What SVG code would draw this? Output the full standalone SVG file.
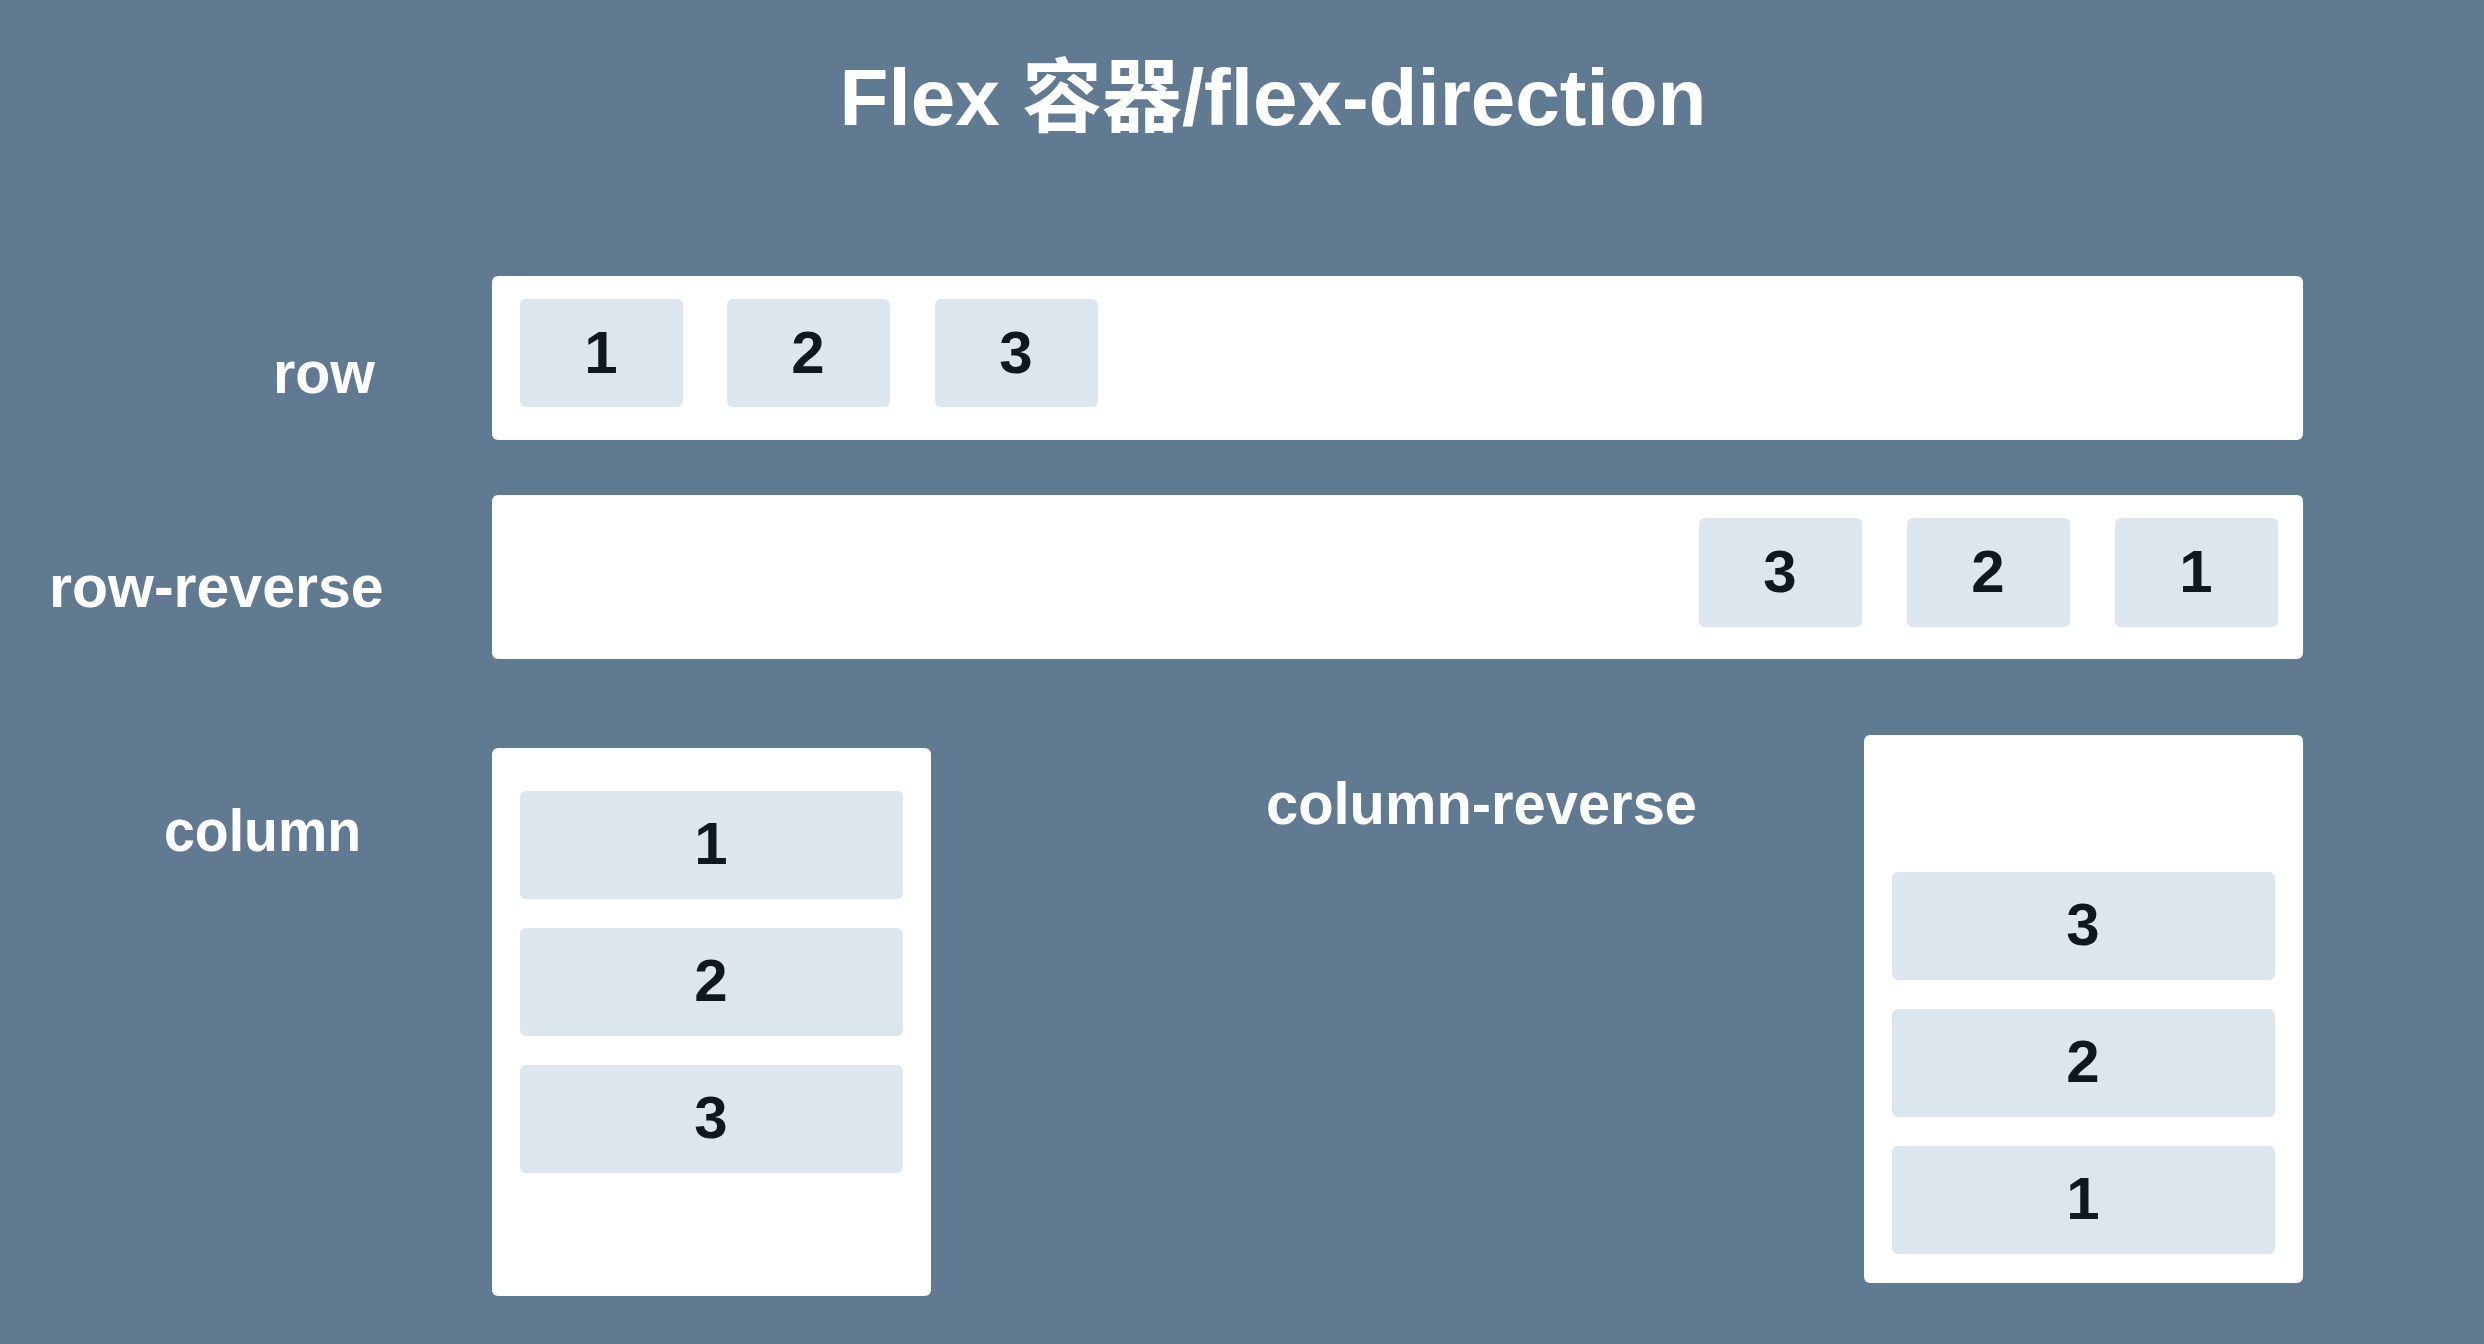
<svg xmlns="http://www.w3.org/2000/svg" width="2484" height="1344" viewBox="0 0 2484 1344">
<style>
.bg{fill:#607a92}
.box{fill:#ffffff}
.item{fill:#dce6ee}
.lbl{font-family:"Liberation Sans","Noto Sans CJK SC",sans-serif;font-weight:bold;fill:#ffffff;font-size:59px}
.title{font-family:"Liberation Sans","Noto Sans CJK SC",sans-serif;font-weight:bold;fill:#ffffff;font-size:80px}
.num{font-family:"Liberation Sans",sans-serif;font-weight:bold;fill:#0e1821;font-size:60px;text-anchor:middle}
</style>
<rect class="bg" x="0" y="0" width="2484" height="1344"/>
<text id="title" class="title" x="1273" y="125" text-anchor="middle">Flex 容器/flex-direction</text>

<g id="row">
  <text class="lbl" x="273" y="393" textLength="102" lengthAdjust="spacingAndGlyphs">row</text>
  <rect class="box" x="492" y="276" width="1811" height="164" rx="6"/>
  <g id="row-1"><rect class="item" x="520" y="299" width="163" height="108" rx="6"/><text class="num" x="601" y="373">1</text></g>
  <g id="row-2"><rect class="item" x="727" y="299" width="163" height="108" rx="6"/><text class="num" x="808" y="373">2</text></g>
  <g id="row-3"><rect class="item" x="935" y="299" width="163" height="108" rx="6"/><text class="num" x="1016" y="373">3</text></g>
</g>

<g id="row-reverse">
  <text class="lbl" x="49" y="607">row-reverse</text>
  <rect class="box" x="492" y="495" width="1811" height="164" rx="6"/>
  <g id="rr-3"><rect class="item" x="1699" y="518" width="163" height="109" rx="6"/><text class="num" x="1780" y="592">3</text></g>
  <g id="rr-2"><rect class="item" x="1907" y="518" width="163" height="109" rx="6"/><text class="num" x="1988" y="592">2</text></g>
  <g id="rr-1"><rect class="item" x="2115" y="518" width="163" height="109" rx="6"/><text class="num" x="2196" y="592">1</text></g>
</g>

<g id="column">
  <text class="lbl" x="164" y="851" textLength="197" lengthAdjust="spacingAndGlyphs">column</text>
  <rect class="box" x="492" y="748" width="439" height="548" rx="6"/>
  <g id="col-1"><rect class="item" x="520" y="791" width="383" height="108" rx="6"/><text class="num" x="711" y="864">1</text></g>
  <g id="col-2"><rect class="item" x="520" y="928" width="383" height="108" rx="6"/><text class="num" x="711" y="1001">2</text></g>
  <g id="col-3"><rect class="item" x="520" y="1065" width="383" height="108" rx="6"/><text class="num" x="711" y="1138">3</text></g>
</g>

<g id="column-reverse">
  <text class="lbl" x="1266" y="824" textLength="431" lengthAdjust="spacingAndGlyphs">column-reverse</text>
  <rect class="box" x="1864" y="735" width="439" height="548" rx="6"/>
  <g id="cr-3"><rect class="item" x="1892" y="872" width="383" height="108" rx="6"/><text class="num" x="2083" y="945">3</text></g>
  <g id="cr-2"><rect class="item" x="1892" y="1009" width="383" height="108" rx="6"/><text class="num" x="2083" y="1082">2</text></g>
  <g id="cr-1"><rect class="item" x="1892" y="1146" width="383" height="108" rx="6"/><text class="num" x="2083" y="1219">1</text></g>
</g>

<g id="connectors"/>
</svg>
